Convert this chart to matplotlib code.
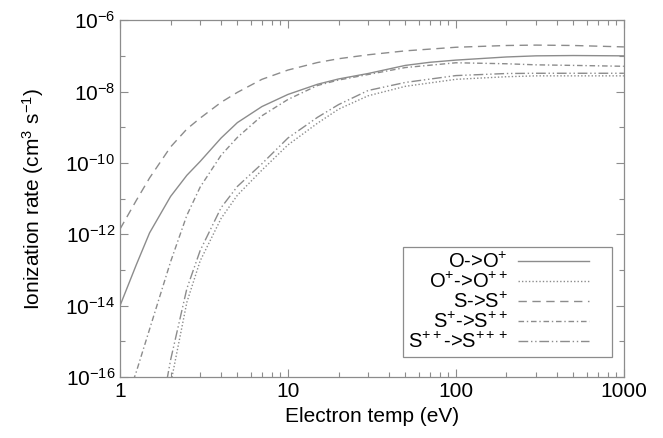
import matplotlib
matplotlib.use("Agg")
import matplotlib.pyplot as plt
from matplotlib.legend_handler import HandlerLine2D
import numpy as np

plt.rcParams['font.family'] = 'Liberation Sans'
plt.rcParams['mathtext.fontset'] = 'custom'
plt.rcParams['mathtext.rm'] = 'Liberation Sans'
plt.rcParams['mathtext.it'] = 'Liberation Sans'
plt.rcParams['mathtext.sf'] = 'Liberation Sans'

# electron temperature (eV) and ionization rate (cm^3 s^-1)
te_o0 = [1, 1.25, 1.5, 2, 2.5, 3, 4, 5, 7, 10, 15, 20, 30, 50, 70, 100, 200, 300, 500, 1000]
rate_o0 = [1.0e-14, 1.4e-13, 1.1e-12, 1.15e-11, 4.5e-11, 1.1e-10, 5.0e-10, 1.35e-9, 3.8e-9,
           8.3e-9, 1.6e-8, 2.25e-8, 3.2e-8, 5.4e-8, 6.6e-8, 7.6e-8, 9.3e-8, 1.0e-7, 1.02e-7, 1.0e-7]

te_o1 = [2, 2.5, 3, 4, 5, 7, 10, 15, 20, 30, 50, 100, 200, 300, 500, 1000]
rate_o1 = [6.3e-17, 1.25e-14, 1.8e-13, 2.8e-12, 1.25e-11, 6.3e-11, 3.2e-10, 1.3e-9, 3.2e-9,
           7.6e-9, 1.4e-8, 2.2e-8, 2.6e-8, 2.75e-8, 2.75e-8, 2.75e-8]

te_s0 = [1, 1.25, 1.5, 2, 2.5, 3, 4, 5, 7, 10, 15, 20, 30, 50, 100, 200, 300, 500, 1000]
rate_s0 = [1.4e-12, 8.9e-12, 3.8e-11, 2.8e-10, 8.9e-10, 1.8e-9, 5.0e-9, 9.5e-9, 2.2e-8,
           4.0e-8, 6.5e-8, 8.3e-8, 1.07e-7, 1.38e-7, 1.74e-7, 1.95e-7, 2.0e-7, 1.95e-7, 1.78e-7]

te_s1 = [1.2, 1.25, 1.5, 2, 2.5, 3, 4, 5, 7, 10, 15, 20, 30, 50, 100, 200, 300, 500, 1000]
rate_s1 = [8.0e-17, 1.4e-16, 2.2e-15, 1.7e-13, 3.4e-12, 2.1e-11, 1.65e-10, 5.2e-10, 2.1e-9,
           6.0e-9, 1.48e-8, 2.1e-8, 3.0e-8, 4.7e-8, 6.4e-8, 6.0e-8, 5.6e-8, 5.4e-8, 5.1e-8]

te_s2 = [1.9, 2, 2.5, 3, 4, 5, 7, 10, 15, 20, 30, 50, 100, 200, 300, 500, 1000]
rate_s2 = [8.0e-17, 3.0e-16, 3.0e-14, 3.5e-13, 5.6e-12, 2.2e-11, 9.5e-11, 5.0e-10, 1.9e-9,
           4.3e-9, 1.07e-8, 1.8e-8, 2.8e-8, 3.2e-8, 3.25e-8, 3.25e-8, 3.25e-8]

labels = [r'O->O$^{+}$', r'O$^{+}$->O$^{++}$', r'S->S$^{+}$',
          r'S$^{+}$->S$^{++}$', r'S$^{++}$->S$^{+++}$']


class ShortLine(HandlerLine2D):
    # leave some room between the line sample and the right edge of the box
    def get_xdata(self, legend, xdescent, ydescent, width, height, fontsize):
        xdata = np.array([-xdescent, width - 0.9 * fontsize])
        return xdata, xdata


col = '#8c8c8c'
fig = plt.figure(figsize=(6.63, 4.38), dpi=100)
ax = fig.add_axes([0.181, 0.139, 0.760, 0.815])

ax.plot(te_o0, rate_o0, color=col, lw=1.0, ls='-', label=labels[0])
ax.plot(te_o1, rate_o1, color=col, lw=1.0, ls=(0, (1, 1.5)), label=labels[1])
ax.plot(te_s0, rate_s0, color=col, lw=1.0, ls=(0, (6, 4)), label=labels[2])
ax.plot(te_s1, rate_s1, color=col, lw=1.0, ls=(0, (4, 2, 1, 2)), label=labels[3])
ax.plot(te_s2, rate_s2, color=col, lw=1.0, ls=(0, (7, 2, 1, 2, 1, 2)), label=labels[4])

ax.set_xscale('log')
ax.set_yscale('log')
ax.set_xlim(1, 1000)
ax.set_ylim(1e-16, 1e-6)

ax.set_xticks([1, 10, 100, 1000])
ax.set_xticklabels(['1', '10', '100', '1000'])
ax.xaxis.set_minor_locator(matplotlib.ticker.LogLocator(base=10, subs=np.arange(2, 10)))
ax.xaxis.set_minor_formatter(matplotlib.ticker.NullFormatter())

ax.set_yticks([1e-16, 1e-14, 1e-12, 1e-10, 1e-8, 1e-6])
ax.set_yticklabels([r'10$^{-16}$', r'10$^{-14}$', r'10$^{-12}$', r'10$^{-10}$',
                    r'10$^{-8}$', r'10$^{-6}$'])
ax.yaxis.set_minor_locator(matplotlib.ticker.FixedLocator([1e-15, 1e-13, 1e-11, 1e-9, 1e-7]))
ax.yaxis.set_minor_formatter(matplotlib.ticker.NullFormatter())

ax.tick_params(which='both', direction='in', top=True, right=True, color=col, labelsize=15)
ax.tick_params(which='major', length=6, width=0.8)
ax.tick_params(which='minor', length=3.5, width=0.8)
for s in ax.spines.values():
    s.set_color(col)
    s.set_linewidth(0.9)

ax.set_xlabel('Electron temp (eV)', fontsize=15, labelpad=4)
ax.set_ylabel(r'Ionization rate (cm$^{3}$ s$^{-1}$)', fontsize=15, labelpad=14)

leg = ax.legend(loc='lower right', bbox_to_anchor=(0.976, 0.056), borderaxespad=0,
                markerfirst=False, fontsize=14.5, handlelength=4.4, handletextpad=0.5,
                labelspacing=0.0, fancybox=False, framealpha=1, borderpad=0.25,
                handler_map={matplotlib.lines.Line2D: ShortLine()})
leg.get_frame().set_edgecolor(col)
leg.get_frame().set_linewidth(0.9)

fig.savefig('out.png', dpi=100)
